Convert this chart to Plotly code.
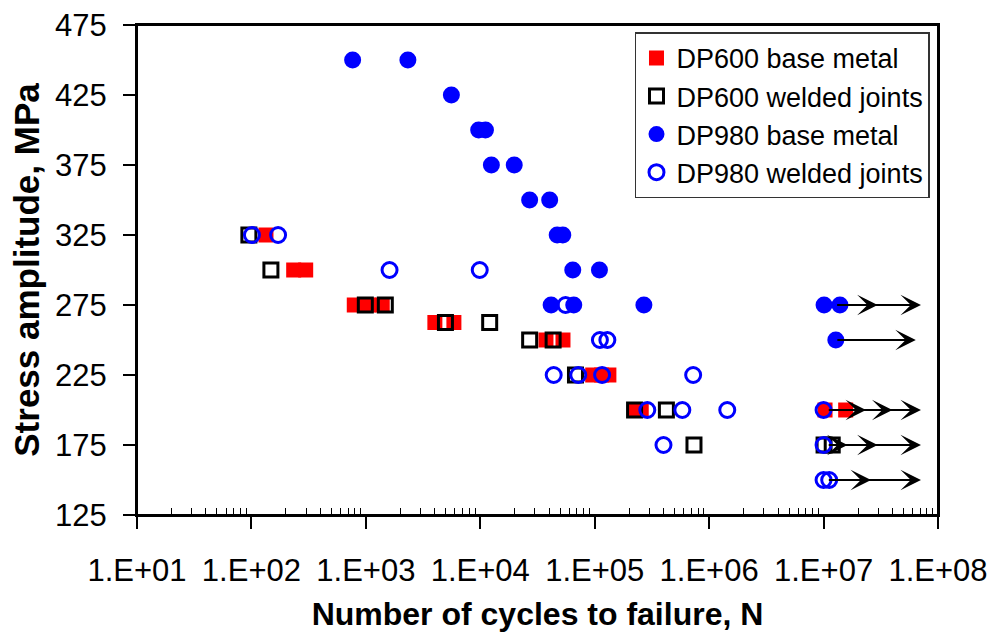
import math
import plotly.graph_objects as go

# ---- data ----
dp600_base_N = [134, 234, 298, 792, 1050, 1390, 4010, 5880, 37500, 52800, 96000, 115000, 133000,
                225000, 255000, 1.03e7, 1.56e7]
dp600_base_S = [325, 300, 300, 275, 275, 275, 262.5, 262.5, 250, 250, 225, 225, 225,
                200, 200, 200, 200]

dp600_weld_N = [95, 148, 989, 1479, 4960, 12080, 27000, 43300, 67900, 223000, 423000, 737000, 1.01e7, 1.19e7]
dp600_weld_S = [325, 300, 275, 275, 262.5, 262.5, 250, 250, 225, 200, 200, 175, 175, 175]

dp980_base_N = [766, 2330, 5590, 9680, 11100, 12500, 19800, 27000, 40400, 47000, 52600, 64300, 110000,
                41600, 65600, 269000, 1.01e7, 1.39e7, 1.28e7]
dp980_base_S = [450, 450, 425, 400, 400, 375, 375, 350, 350, 325, 325, 300, 300,
                275, 275, 275, 275, 275, 250]

dp980_weld_N = [101, 171, 1611, 9890, 55600, 111000, 129000, 43800, 71800, 116000, 725000,
                288000, 583000, 1.44e6, 1.0e7, 399000, 1.0e7, 1.0e7, 1.12e7]
dp980_weld_S = [325, 325, 300, 300, 275, 250, 250, 225, 225, 225, 225,
                200, 200, 200, 200, 175, 175, 150, 150]

# run-out arrows (stress level, arrow tail, arrow head positions)
runout_S = [275, 250, 200, 175, 150]
runout_start_N = [1.28e7, 1.28e7, 1.08e7, 1.08e7, 1.08e7]
runout_heads_N = [[2.97e7, 7.1e7], [6.4e7], [2.35e7, 4.0e7, 7.1e7], [1.62e7, 2.97e7, 7.1e7], [2.6e7, 7.1e7]]

x_tickvals = [1e1, 1e2, 1e3, 1e4, 1e5, 1e6, 1e7, 1e8]
x_ticktext = ["1.E+01", "1.E+02", "1.E+03", "1.E+04", "1.E+05", "1.E+06", "1.E+07", "1.E+08"]
y_tickvals = [125, 175, 225, 275, 325, 375, 425, 475]

series_names = ["DP600 base metal", "DP600 welded joints", "DP980 base metal", "DP980 welded joints"]

FONT = "Liberation Sans, Arial, sans-serif"

fig = go.Figure()
fig.add_trace(go.Scatter(x=dp600_base_N, y=dp600_base_S, mode="markers", name=series_names[0],
                         marker=dict(symbol="square", size=15, color="#FF0000", line=dict(width=0))))
fig.add_trace(go.Scatter(x=dp600_weld_N, y=dp600_weld_S, mode="markers", name=series_names[1],
                         marker=dict(symbol="square-open", size=14, color="#000000", line=dict(width=3))))
fig.add_trace(go.Scatter(x=dp980_base_N, y=dp980_base_S, mode="markers", name=series_names[2],
                         marker=dict(symbol="circle", size=17, color="#0000FF", line=dict(width=0))))
fig.add_trace(go.Scatter(x=dp980_weld_N, y=dp980_weld_S, mode="markers", name=series_names[3],
                         marker=dict(symbol="circle-open", size=15, color="#0000FF", line=dict(width=3))))

annotations = []
for s, n0, heads in zip(runout_S, runout_start_N, runout_heads_N):
    for h in heads:
        annotations.append(dict(x=math.log10(h), y=s, ax=math.log10(n0), ay=s,
                                xref="x", yref="y", axref="x", ayref="y",
                                text="", showarrow=True, arrowhead=3, arrowsize=1.9,
                                arrowwidth=1.8, arrowcolor="black"))

minor_vals = [m * 10 ** d for d in range(1, 8) for m in range(2, 10)]

fig.update_layout(
    width=994, height=633,
    margin=dict(l=137, r=56, t=25, b=118),
    paper_bgcolor="white", plot_bgcolor="white",
    font=dict(family=FONT, color="black"),
    showlegend=True,
    legend=dict(x=0.99, y=0.985, xanchor="right", yanchor="top",
                bgcolor="white", bordercolor="#333333", borderwidth=1.5,
                font=dict(family=FONT, size=27, color="black"),
                tracegroupgap=0, itemsizing="trace", itemwidth=30),
    annotations=annotations,
    shapes=[dict(type="rect", xref="paper", yref="paper", x0=0, x1=1, y0=0, y1=1,
                 line=dict(color="black", width=2), fillcolor="rgba(0,0,0,0)", layer="above")],
)

fig.update_xaxes(
    type="log", range=[1, 8], automargin=False,
    tickmode="array", tickvals=x_tickvals, ticktext=x_ticktext,
    ticks="outside", ticklen=12, tickwidth=1.5, tickcolor="black",
    ticklabelstandoff=15,
    minor=dict(tickmode="array", tickvals=minor_vals, ticks="inside", ticklen=7,
               tickwidth=1, tickcolor="black", showgrid=False),
    showline=True, linewidth=2, linecolor="black", mirror=True,
    showgrid=False, zeroline=False,
    tickfont=dict(family=FONT, size=31, color="black"),
    title=dict(text="Number of cycles to failure, N", standoff=15,
               font=dict(family=FONT, size=32, color="black", weight="bold")),
)
fig.update_yaxes(
    range=[125, 475], automargin=False,
    tickmode="array", tickvals=y_tickvals,
    ticks="outside", ticklen=12, tickwidth=1.5, tickcolor="black",
    ticklabelstandoff=10,
    showline=True, linewidth=2, linecolor="black", mirror=True,
    showgrid=False, zeroline=False,
    tickfont=dict(family=FONT, size=31, color="black"),
    title=dict(text="Stress amplitude, MPa", standoff=5,
               font=dict(family=FONT, size=35, color="black", weight="bold")),
)

# remove the default 8px page margin so the figure sits at the window origin
fig.write_html("out.html", config={"displayModeBar": False},
               post_script="document.body.style.margin='0';")
